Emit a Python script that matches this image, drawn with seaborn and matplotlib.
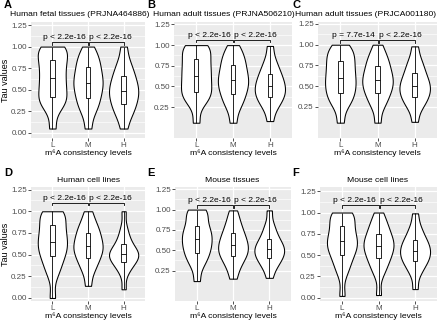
import numpy as np
import pandas as pd
import seaborn as sns
import matplotlib.pyplot as plt

# levels of m6A consistency
levels = ["L", "M", "H"]

# Tau values per panel and level, read as 1/16 quantiles off the violins
# (index 4 = Q1, index 8 = median, index 12 = Q3)
a_L = [0.05, 0.27, 0.34, 0.38, 0.41, 0.47, 0.53, 0.58, 0.63, 0.69, 0.75, 0.80, 0.85, 0.91, 0.96, 0.99, 1.00]
a_M = [0.05, 0.22, 0.29, 0.35, 0.40, 0.45, 0.50, 0.54, 0.58, 0.62, 0.66, 0.71, 0.76, 0.81, 0.86, 0.92, 1.00]
a_H = [0.05, 0.18, 0.24, 0.29, 0.34, 0.38, 0.42, 0.46, 0.49, 0.53, 0.57, 0.61, 0.66, 0.71, 0.77, 0.85, 1.00]

b_L = [0.06, 0.28, 0.35, 0.39, 0.43, 0.48, 0.53, 0.58, 0.63, 0.68, 0.73, 0.78, 0.83, 0.89, 0.95, 0.99, 1.00]
b_M = [0.06, 0.23, 0.30, 0.36, 0.41, 0.46, 0.50, 0.54, 0.58, 0.62, 0.66, 0.71, 0.76, 0.81, 0.86, 0.92, 1.00]
b_H = [0.08, 0.22, 0.28, 0.33, 0.37, 0.40, 0.43, 0.47, 0.50, 0.53, 0.57, 0.61, 0.65, 0.70, 0.76, 0.84, 0.99]

c_L = [0.06, 0.25, 0.32, 0.37, 0.42, 0.47, 0.51, 0.56, 0.60, 0.65, 0.70, 0.75, 0.80, 0.85, 0.90, 0.95, 1.00]
c_M = [0.06, 0.24, 0.31, 0.37, 0.42, 0.46, 0.50, 0.54, 0.57, 0.61, 0.65, 0.69, 0.74, 0.79, 0.84, 0.90, 1.00]
c_H = [0.07, 0.22, 0.28, 0.33, 0.37, 0.40, 0.44, 0.47, 0.50, 0.54, 0.57, 0.61, 0.66, 0.71, 0.77, 0.84, 0.98]

d_L = [0.00, 0.26, 0.35, 0.42, 0.48, 0.53, 0.57, 0.61, 0.65, 0.70, 0.74, 0.79, 0.84, 0.90, 0.96, 0.99, 1.00]
d_M = [0.14, 0.29, 0.36, 0.42, 0.46, 0.50, 0.54, 0.57, 0.60, 0.63, 0.67, 0.71, 0.75, 0.79, 0.84, 0.90, 1.00]
d_H = [0.10, 0.28, 0.35, 0.39, 0.42, 0.45, 0.47, 0.49, 0.51, 0.53, 0.55, 0.58, 0.62, 0.67, 0.73, 0.82, 1.00]

e_L = [0.12, 0.30, 0.37, 0.43, 0.47, 0.52, 0.56, 0.60, 0.64, 0.68, 0.72, 0.76, 0.80, 0.87, 0.94, 0.99, 1.00]
e_M = [0.15, 0.27, 0.33, 0.39, 0.43, 0.46, 0.49, 0.53, 0.56, 0.59, 0.63, 0.67, 0.71, 0.76, 0.82, 0.89, 0.99]
e_H = [0.16, 0.27, 0.32, 0.37, 0.40, 0.43, 0.46, 0.49, 0.51, 0.54, 0.57, 0.60, 0.64, 0.69, 0.75, 0.83, 0.99]

f_L = [0.02, 0.28, 0.37, 0.44, 0.50, 0.55, 0.59, 0.62, 0.66, 0.70, 0.74, 0.79, 0.84, 0.90, 0.96, 0.99, 1.00]
f_M = [0.03, 0.27, 0.35, 0.41, 0.46, 0.50, 0.54, 0.58, 0.61, 0.64, 0.67, 0.71, 0.75, 0.80, 0.85, 0.91, 1.00]
f_H = [0.10, 0.27, 0.34, 0.39, 0.43, 0.46, 0.49, 0.52, 0.55, 0.58, 0.61, 0.64, 0.68, 0.72, 0.78, 0.85, 0.99]

titles = ["Human fetal tissues (PRJNA464886)", "Human adult tissues (PRJNA506210)",
          "Human adult tissues (PRJCA001180)", "Human cell lines", "Mouse tissues", "Mouse cell lines"]
letters = ["A", "B", "C", "D", "E", "F"]
p_left = ["p < 2.2e-16", "p < 2.2e-16", "p = 7.7e-14", "p < 2.2e-16", "p < 2.2e-16", "p < 2.2e-16"]
p_right = ["p < 2.2e-16"] * 6
bracket_y = [1.05, 1.065, 1.055, 1.10, 1.055, 1.085]
ylims = [(-0.06, 1.285), (0.02, 1.28), (0.037, 1.274), (-0.035, 1.28), (0.09, 1.278), (-0.04, 1.30)]
yticks = [[0, .25, .5, .75, 1, 1.25], [.25, .5, .75, 1, 1.25], [.25, .5, .75, 1, 1.25],
          [0, .25, .5, .75, 1, 1.25], [.25, .5, .75, 1, 1.25], [0, .25, .5, .75, 1, 1.25]]

panels = [(a_L, a_M, a_H), (b_L, b_M, b_H), (c_L, c_M, c_H),
          (d_L, d_M, d_H), (e_L, e_M, e_H), (f_L, f_M, f_H)]

# panel boxes in pixels: left, top, right, bottom
boxes = [(31, 22, 145, 138), (174, 22, 292, 138), (318, 22, 437, 138),
         (31, 187, 145, 301), (175, 187, 291, 301), (320, 187, 437, 301)]
title_x = [80, 224, 366, 88, 232, 377]

plt.rcParams['font.family'] = ['Liberation Sans', 'DejaVu Sans']
W, H = 440, 322
fig = plt.figure(figsize=(W / 100, H / 100), dpi=100)

for i, (vals, box) in enumerate(zip(panels, boxes)):
    l, t, r, b = box
    ax = fig.add_axes([l / W, 1 - b / H, (r - l) / W, (b - t) / H])
    df = pd.DataFrame({
        "level": np.repeat(levels, [len(v) for v in vals]),
        "tau": np.concatenate(vals),
    })
    ax.set_facecolor("#EBEBEB")
    sns.violinplot(data=df, x="level", y="tau", order=levels, cut=0, bw_adjust=0.65,
                   density_norm="width", width=0.82, inner=None, color="white",
                   linecolor="black", linewidth=0.75, saturation=1, ax=ax)
    sns.boxplot(data=df, x="level", y="tau", order=levels, width=0.12, whis=(0, 100),
                showfliers=False, showcaps=False, color="white", linecolor="black",
                linewidth=0.6, saturation=1, ax=ax)

    ax.set_xlim(-0.6, 2.6)
    ax.set_ylim(*ylims[i])
    ax.set_yticks(yticks[i])
    ax.set_yticklabels([f"{v:.2f}" for v in yticks[i]])
    ax.set_yticks([v + 0.125 for v in yticks[i][:-1]] + ([-0.125] if yticks[i][0] > 0 else []), minor=True)
    ax.grid(True, which="major", color="white", linewidth=0.9)
    ax.grid(True, which="minor", axis="y", color="white", linewidth=0.45)
    ax.set_axisbelow(True)
    for s in ax.spines.values():
        s.set_visible(False)
    ax.tick_params(axis="both", which="major", length=2, width=0.6, color="#333333",
                   labelsize=5.8, labelcolor="#4D4D4D", pad=1)
    ax.tick_params(axis="both", which="minor", length=0)
    ax.set_xlabel("m⁶A consistency levels", fontsize=6.1, labelpad=0)
    ax.set_ylabel("Tau values" if i in (0, 3) else "", fontsize=6.5)
    ax.yaxis.set_label_coords((10 - l) / (r - l), 0.5)

    # significance brackets, labels nudged apart around M
    by = bracket_y[i]
    for (x0, x1) in [(0, 1), (1.03, 2)]:
        ax.plot([x0, x0, x1, x1], [by - 0.03, by, by, by - 0.03], color="black",
                linewidth=0.6, clip_on=False)
    ax.text(0.93, by + 0.012, p_left[i], ha="right", va="bottom", fontsize=6.0)
    ax.text(1.03, by + 0.012, p_right[i], ha="left", va="bottom", fontsize=6.0)

    ty = 14 if i < 3 else 181
    fig.text(title_x[i] / W, 1 - ty / H, titles[i], ha="center", va="center", fontsize=6.1)
    lx = [4, 147, 292, 4, 147, 292][i]
    ly = 5 if i < 3 else 173
    fig.text(lx / W, 1 - ly / H, letters[i], ha="left", va="center", fontsize=8, fontweight="bold")

fig.savefig("out.png", dpi=100)
